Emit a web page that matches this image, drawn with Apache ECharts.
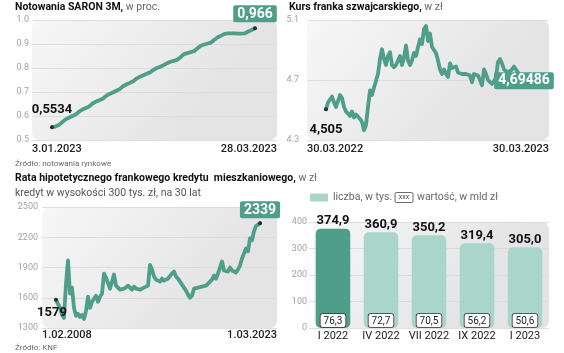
<!DOCTYPE html>
<html>
<head>
<meta charset="utf-8">
<script src="https://cdn.jsdelivr.net/npm/echarts@6/dist/echarts.min.js"></script>
<style>
  html, body { margin: 0; padding: 0; background: #fff; }
  #chart { width: 564px; height: 353px; }
</style>
</head>
<body>
<div id="chart"></div>
<script>
// SARON 3M, daily quotes 3.01.2023 - 28.03.2023
var saronDates = ['3.01.2023', '28.03.2023'];
var saron = [0.5534, 0.556, 0.562, 0.574, 0.586, 0.593, 0.600, 0.606, 0.618, 0.627,
  0.633, 0.640, 0.652, 0.660, 0.666, 0.672, 0.684, 0.692, 0.698, 0.705,
  0.712, 0.724, 0.732, 0.738, 0.745, 0.756, 0.764, 0.770, 0.776, 0.782,
  0.792, 0.800, 0.805, 0.812, 0.820, 0.826, 0.830, 0.834, 0.845, 0.858,
  0.862, 0.866, 0.870, 0.882, 0.893, 0.898, 0.902, 0.906, 0.918, 0.928,
  0.935, 0.942, 0.944, 0.944, 0.944, 0.943, 0.943, 0.944, 0.952, 0.958, 0.966];

// CHF/PLN 30.03.2022 - 30.03.2023
var francDates = ['30.03.2022', '30.03.2023'];
var franc = [4.505, 4.55, 4.57, 4.59, 4.55, 4.52, 4.56, 4.60, 4.58, 4.52,
  4.49, 4.50, 4.46, 4.49, 4.45, 4.47, 4.46, 4.44, 4.42, 4.365,
  4.40, 4.52, 4.63, 4.60, 4.65, 4.66, 4.74, 4.84, 4.905, 4.84,
  4.80, 4.86, 4.885, 4.80, 4.785, 4.80, 4.81, 4.86, 4.80, 4.85,
  4.93, 4.83, 4.80, 4.83, 4.88, 4.86, 4.92, 4.97, 4.94, 5.04,
  5.06, 4.96, 5.01, 4.92, 4.90, 4.88, 4.83, 4.77, 4.74, 4.77,
  4.74, 4.72, 4.81, 4.78, 4.77, 4.79, 4.75, 4.75, 4.74, 4.75,
  4.74, 4.75, 4.73, 4.685, 4.74, 4.74, 4.73, 4.70, 4.665, 4.77,
  4.74, 4.70, 4.69, 4.674, 4.69, 4.72, 4.82, 4.84, 4.81, 4.77,
  4.78, 4.75, 4.76, 4.77, 4.79, 4.79, 4.75, 4.73, 4.71, 4.69486];

// monthly instalment, 1.02.2008 - 1.03.2023
var rataDates = ['1.02.2008', '1.03.2023'];
var rata = [1579, 1561, 1500, 1430, 1400, 1740, 1970, 1640, 1700, 1500,
  1420, 1440, 1410, 1430, 1390, 1470, 1610, 1500, 1560, 1590,
  1620, 1560, 1610, 1640, 1840, 1800, 1790, 1690, 1680, 1830,
  1720, 1710, 1680, 1670, 1690, 1700, 1720, 1700, 1680, 1710,
  1690, 1700, 1680, 1670, 1700, 1700, 1720, 1925, 1880, 1810,
  1780, 1770, 1760, 1790, 1770, 1780, 1790, 1780, 1840, 1860,
  1810, 1790, 1760, 1730, 1700, 1670, 1630, 1600, 1620, 1690,
  1680, 1700, 1690, 1710, 1710, 1720, 1730, 1760, 1780, 1820,
  1790, 1840, 1900, 1960, 1870, 1880, 1860, 1900, 1870, 1860,
  1850, 1880, 1920, 1990, 2000, 2090, 2060, 2190, 2170, 2260,
  2310, 2300, 2339];

// mortgage loans in CHF
var quarters = ['I 2022', 'IV 2022', 'VII 2022', 'IX 2022', 'I 2023'];
var liczba = [374.9, 360.9, 350.2, 319.4, 305.0];
var wartosc = [76.3, 72.7, 70.5, 56.2, 50.6];

var TEAL = '#4f9e8a';
var LIGHT = '#a9d5cb';
var FONT = 'Roboto, "Noto Sans", sans-serif';

var chartDom = document.getElementById('chart');
var myChart = echarts.init(chartDom, null, { renderer: 'canvas' });
var option;

function pl(v) {
  return String(v).replace('.', ',');
}

var bgFill = {
  type: 'linear', x: 0, y: 0, x2: 0.6, y2: 1,
  colorStops: [{ offset: 0, color: '#f7f7f7' }, { offset: 1, color: '#e4e4e4' }]
};

function bgRect(x, y, w, h) {
  return { type: 'rect', z: -10, silent: true, shape: { x: x, y: y, width: w, height: h, r: 7 }, style: { fill: bgFill } };
}

var boxLabel = {
  show: true, fontSize: 14, fontWeight: 'bold', color: '#fff',
  backgroundColor: TEAL, borderRadius: 2, padding: [2, 4, 1, 4]
};
var plainLabel = { show: true, fontSize: 13, fontWeight: 'bold', color: '#111' };

function lineData(vals, startLabel, endLabel) {
  return vals.map(function (v, i) {
    var item = { value: [i, v] };
    if (i === 0 || i === vals.length - 1) {
      item.symbol = 'circle';
      item.symbolSize = 4;
      item.itemStyle = { color: '#2d2d2d' };
      item.label = echarts.util.extend({ formatter: pl(v) }, i === 0 ? startLabel : endLabel);
    }
    return item;
  });
}

function dateAxis(grid, min, max, dates, margin) {
  return {
    type: 'value', gridIndex: grid, min: min, max: max,
    axisLine: { show: false }, axisTick: { show: false }, splitLine: { show: false },
    axisLabel: {
      customValues: [min, max],
      formatter: function (v) { return v === min ? dates[0] : dates[1]; },
      alignMinLabel: 'left', alignMaxLabel: 'right',
      fontSize: 11, fontWeight: 500, color: '#222', margin: margin
    }
  };
}

function valAxis(grid, min, max, interval, digits, margin) {
  return {
    type: 'value', gridIndex: grid, min: min, max: max, interval: interval,
    axisLine: { show: false }, axisTick: { show: false },
    splitLine: { lineStyle: { color: '#d8d8d8', width: 0.8 } },
    axisLabel: {
      fontSize: 9, color: '#a3a3a3', margin: margin,
      formatter: function (v) { return v.toFixed(digits); }
    }
  };
}

function lineSeries(idx, vals, startLabel, endLabel) {
  return {
    type: 'line', xAxisIndex: idx, yAxisIndex: idx,
    symbol: 'none', showSymbol: true,
    lineStyle: { color: TEAL, width: 3.8, join: 'round', cap: 'round' },
    itemStyle: { color: TEAL },
    data: lineData(vals, startLabel, endLabel)
  };
}

option = {
  animation: false,
  textStyle: { fontFamily: FONT },
  title: [
    { left: 15, top: 0.5, padding: 0, text: '{b|Notowania SARON 3M,}{n| w proc.}' },
    { left: 289, top: 0.5, padding: 0, text: '{b|Kurs franka szwajcarskiego,}{n| w zł}' },
    { left: 15, top: 159, padding: 0, text: '{s|Źródło: notowania rynkowe}' },
    { left: 15, top: 171, padding: 0, text: '{b|Rata hipotetycznego frankowego kredytu  mieszkaniowego,}{n| w zł}' },
    { left: 15, top: 186.5, padding: 0, text: '{m|kredyt w wysokości 300 tys. zł, na 30 lat}' },
    { left: 15, top: 343, padding: 0, text: '{s|Źródło: KNF}' }
  ].map(function (t) {
    t.textStyle = {
      fontFamily: FONT, fontWeight: 'normal',
      rich: {
        b: { fontFamily: FONT, fontSize: 10.5, fontWeight: 'bold', color: '#111', lineHeight: 14 },
        n: { fontFamily: FONT, fontSize: 10.5, fontWeight: 'normal', color: '#666', lineHeight: 14 },
        m: { fontFamily: FONT, fontSize: 10.5, fontWeight: 'normal', color: '#555', lineHeight: 14 },
        s: { fontFamily: FONT, fontSize: 8, fontWeight: 'normal', color: '#666', lineHeight: 10 }
      }
    };
    return t;
  }),
  graphic: [
    bgRect(32, 20, 245, 120),
    bgRect(307, 20, 242, 120),
    bgRect(42, 207, 235, 121),
    bgRect(314, 222, 235, 106),
    { type: 'rect', shape: { x: 310, y: 193.5, width: 18, height: 8, r: 1 }, style: { fill: LIGHT } },
    { type: 'text', x: 333, y: 197.5, style: { text: 'liczba, w tys.', fontFamily: FONT, fontSize: 10.5, fill: '#666', verticalAlign: 'middle' } },
    { type: 'rect', shape: { x: 395, y: 192.5, width: 18, height: 10, r: 1.5 }, style: { fill: '#fff', stroke: '#444', lineWidth: 0.8 } },
    { type: 'text', x: 404, y: 197.5, style: { text: 'xxx', fontFamily: FONT, fontSize: 7, fill: '#444', align: 'center', verticalAlign: 'middle' } },
    { type: 'text', x: 417, y: 197.5, style: { text: 'wartość, w mld zł', fontFamily: FONT, fontSize: 10.5, fill: '#666', verticalAlign: 'middle' } }
  ],
  grid: [
    { left: 32, top: 20, width: 245, height: 120, outerBoundsMode: 'none' },
    { left: 307, top: 20, width: 242, height: 120, outerBoundsMode: 'none' },
    { left: 42, top: 207, width: 235, height: 121, outerBoundsMode: 'none' },
    { left: 309, top: 222, width: 240, height: 106, outerBoundsMode: 'none' }
  ],
  xAxis: [
    dateAxis(0, -5.91, 66.5, saronDates, 3.5),
    dateAxis(1, -9.5, 111.5, francDates, 3.5),
    dateAxis(2, -7, 110.5, rataDates, 1.5),
    {
      type: 'category', gridIndex: 3, data: quarters,
      axisLine: { show: false }, axisTick: { show: false },
      axisLabel: { interval: 0, hideOverlap: false, fontSize: 11, color: '#222', margin: 3 }
    }
  ],
  yAxis: [
    valAxis(0, 0.5, 1.0, 0.1, 1, 3),
    valAxis(1, 4.3, 5.1, 0.4, 1, 8),
    valAxis(2, 1300, 2500, 300, 0, 4),
    valAxis(3, 0, 400, 100, 0, 2)
  ],
  series: [
    lineSeries(0, saron,
      echarts.util.extend({ position: 'top', distance: 9 }, plainLabel),
      echarts.util.extend({ position: 'top', distance: 4 }, boxLabel)),
    lineSeries(1, franc,
      echarts.util.extend({ position: 'bottom', distance: 12 }, plainLabel),
      echarts.util.extend({ position: 'inside', fontSize: 13, padding: [2, 2, 1, 2] }, boxLabel)),
    lineSeries(2, rata,
      echarts.util.extend({ position: 'bottom', distance: 4, offset: [-4, 0] }, plainLabel),
      echarts.util.extend({ position: 'top', distance: 3, fontSize: 13, padding: [2, 2, 1, 2] }, boxLabel)),
    {
      type: 'bar', xAxisIndex: 3, yAxisIndex: 3, barWidth: 34.5,
      data: liczba.map(function (v, i) {
        return { value: v, itemStyle: { color: i === 0 ? TEAL : LIGHT } };
      }),
      itemStyle: { borderRadius: 5 },
      label: {
        show: true, position: 'top', distance: 1, fontSize: 13, fontWeight: 'bold', color: '#111',
        formatter: function (p) { return p.value.toFixed(1).replace('.', ','); }
      }
    },
    {
      type: 'bar', xAxisIndex: 3, yAxisIndex: 3, barWidth: 34.5, barGap: '-100%', silent: true,
      data: liczba,
      itemStyle: { color: 'rgba(0,0,0,0)' },
      label: {
        show: true, position: 'insideBottom', distance: 1, fontSize: 10, color: '#222',
        backgroundColor: '#fff', borderColor: '#333', borderWidth: 0.8, borderRadius: 2,
        padding: [2, 3, 1, 3],
        formatter: function (p) { return wartosc[p.dataIndex].toFixed(1).replace('.', ','); }
      }
    }
  ]
};

option && myChart.setOption(option);
</script>
</body>
</html>
